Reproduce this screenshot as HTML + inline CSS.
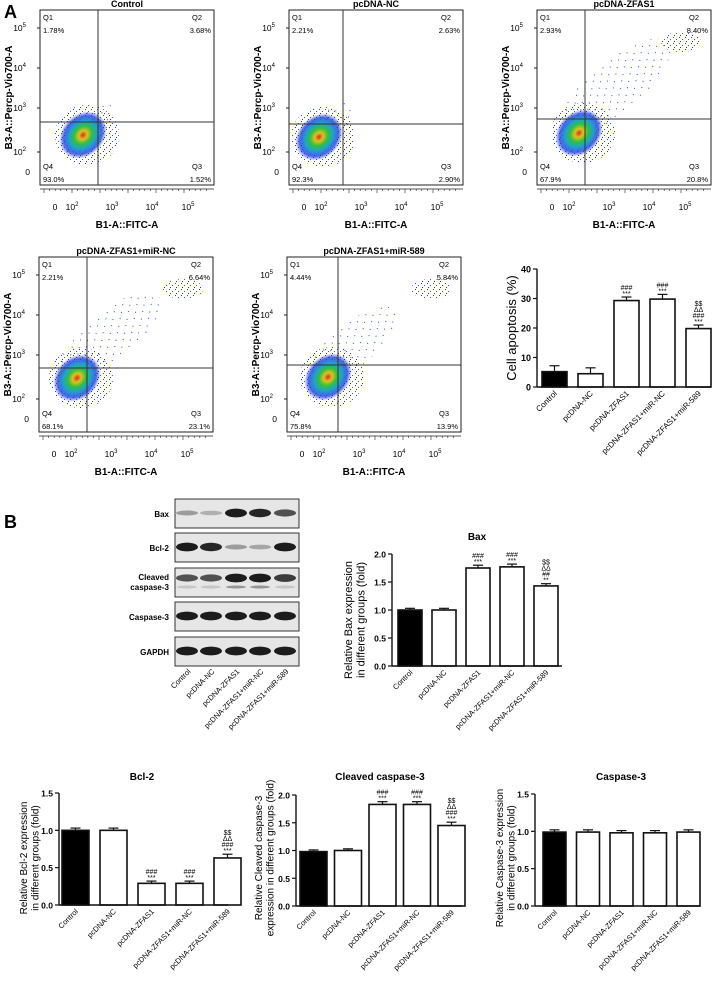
<!DOCTYPE html>
<html><head><meta charset="utf-8">
<style>
html,body{margin:0;padding:0;background:#fff;}
svg{display:block;font-family:"Liberation Sans",Arial,sans-serif;}
</style></head>
<body>
<svg id="fig" width="716" height="992" viewBox="0 0 716 992" xmlns="http://www.w3.org/2000/svg">
<defs>
<radialGradient id="dens" cx="50%" cy="50%" r="50%">
<stop offset="0" stop-color="#d83020"/>
<stop offset="0.18" stop-color="#e0c020"/>
<stop offset="0.38" stop-color="#30c040"/>
<stop offset="0.6" stop-color="#20a0d0"/>
<stop offset="0.82" stop-color="#2040e0" stop-opacity="0.8"/>
<stop offset="1" stop-color="#2030f0" stop-opacity="0"/>
</radialGradient>
<pattern id="speck" width="6" height="6" patternUnits="userSpaceOnUse">
<rect x="1" y="1" width="1" height="1" fill="#2a3cf0"/>
<rect x="4" y="3" width="1" height="1" fill="#3a50e8"/>
<rect x="2" y="5" width="1" height="1" fill="#2030d0"/>
</pattern>
<pattern id="speck2" width="11" height="9" patternUnits="userSpaceOnUse">
<rect x="2" y="2" width="1" height="1" fill="#3040f0"/>
<rect x="8" y="6" width="1" height="1" fill="#3040f0"/>
</pattern>
</defs>
<text x="4" y="18" font-size="18" font-weight="bold">A</text>
<text x="4" y="528" font-size="18" font-weight="bold">B</text>
<g id="flows"></g>
<g id="blot"></g>
<g id="charts"></g>
</svg>
<script>
const NS="http://www.w3.org/2000/svg";
function el(tag,attrs,parent,text){const e=document.createElementNS(NS,tag);for(const k in attrs)e.setAttribute(k,attrs[k]);if(text!==undefined)e.textContent=text;parent.appendChild(e);return e;}

/* ---------- flow cytometry plots ---------- */
const flowTitles=["Control","pcDNA-NC","pcDNA-ZFAS1","pcDNA-ZFAS1+miR-NC","pcDNA-ZFAS1+miR-589"];
const flowQ1=["1.78%","2.21%","2.93%","2.21%","4.44%"];
const flowQ2=["3.68%","2.63%","8.40%","6.64%","5.84%"];
const flowQ3=["1.52%","2.90%","20.8%","23.1%","13.9%"];
const flowQ4=["93.0%","92.3%","67.9%","68.1%","75.8%"];
const flowOrigins=[[40,10],[289,10],[537,10],[39,257],[287,257]];
const flowGateX=[58,54,48,48,51];
const flowGateY=[112,114,109,111,108];
const flowCluster=[[43,125],[30,127],[42,123],[38,121],[41,120]];
const flowSpread=[0.2,0.25,1,0.9,0.7];

const fg=document.getElementById('flows');
flowTitles.forEach((t,i)=>{
  const [ox,oy]=flowOrigins[i];const W=174,H=175;
  const g=el('g',{},fg);
  
  
  const tt=el('text',{x:ox+W/2,y:oy-3,'font-size':9,'font-weight':'bold','text-anchor':'middle'},g,t);
  
  
  const [cx,cy]=flowCluster[i];
  const s=flowSpread[i];
  const cl=el('g',{},g);
  
  
  el('ellipse',{cx:ox+cx+35*s,cy:oy+cy-45*s,rx:20+50*s,ry:10+16*s,transform:`rotate(-40 ${ox+cx+35*s} ${oy+cy-45*s})`,fill:'url(#speck2)'},cl);
  if(s>0.5) el('ellipse',{cx:ox+W-30,cy:oy+32,rx:20,ry:10,fill:'url(#speck)'},cl);
  el('ellipse',{cx:ox+cx+4,cy:oy+cy,rx:32,ry:30,fill:'url(#speck)'},cl);
  el('ellipse',{cx:ox+cx,cy:oy+cy,rx:26,ry:21,fill:'url(#dens)',transform:`rotate(-45 ${ox+cx} ${oy+cy})`},cl);
  el('rect',{x:ox,y:oy,width:W,height:H,fill:'none',stroke:'#222','stroke-width':1},g);
  el('line',{x1:ox+flowGateX[i],y1:oy,x2:ox+flowGateX[i],y2:oy+H,stroke:'#333','stroke-width':1},g);
  el('line',{x1:ox,y1:oy+flowGateY[i],x2:ox+W,y2:oy+flowGateY[i],stroke:'#333','stroke-width':1},g);
  const fs=7.5;
  el('text',{x:ox+3,y:oy+10,'font-size':fs},g,'Q1');
  el('text',{x:ox+3,y:oy+23,'font-size':fs},g,flowQ1[i]);
  el('text',{x:ox+W-22,y:oy+10,'font-size':fs},g,'Q2');
  el('text',{x:ox+W-3,y:oy+23,'font-size':fs,'text-anchor':'end'},g,flowQ2[i]);
  el('text',{x:ox+3,y:oy+H-16,'font-size':fs},g,'Q4');
  el('text',{x:ox+3,y:oy+H-3,'font-size':fs},g,flowQ4[i]);
  el('text',{x:ox+W-22,y:oy+H-16,'font-size':fs},g,'Q3');
  el('text',{x:ox+W-3,y:oy+H-3,'font-size':fs,'text-anchor':'end'},g,flowQ3[i]);
  [[18,'5'],[58,'4'],[98,'3'],[142,'2']].forEach(([yy,e])=>{
    const tx=el('text',{x:ox-14,y:oy+yy+3,'font-size':8.5,'text-anchor':'end'},g);
    el('tspan',{},tx,'10');el('tspan',{dy:-4,'font-size':6},tx,e);
    el('line',{x1:ox-3,y1:oy+yy,x2:ox,y2:oy+yy,stroke:'#222'},g);
  });
  el('text',{x:ox-10,y:oy+165,'font-size':8.5,'text-anchor':'end'},g,'0');
  el('line',{x1:ox,y1:oy+H+4,x2:ox+W,y2:oy+H+4,stroke:'#222','stroke-width':0.8},g);
  for(let k=0;k<30;k++){el('line',{x1:ox+4+k*5.6,y1:oy+H+4,x2:ox+4+k*5.6,y2:oy+H+(k%5==0?8:6),stroke:'#222','stroke-width':0.6},g);}
  el('text',{x:ox+15,y:oy+H+25,'font-size':8.5,'text-anchor':'middle'},g,'0');
  [[35,'2'],[75,'3'],[115,'4'],[151,'5']].forEach(([xx,e])=>{
    const tx=el('text',{x:ox+xx-3,y:oy+H+25,'font-size':8.5,'text-anchor':'middle'},g);
    el('tspan',{},tx,'10');el('tspan',{dy:-4,'font-size':6},tx,e);
  });
  const xl=el('text',{x:ox+W/2,y:oy+H+43,'font-size':10,'font-weight':'bold','text-anchor':'middle'},g,'B1-A::FITC-A');
  
  
  const yl=el('text',{x:0,y:0,'font-size':10,'font-weight':'bold','text-anchor':'middle',transform:`translate(${ox-28},${oy+H/2}) rotate(-90)`},g,'B3-A::Percp-Vio700-A');
  
  
});

/* ---------- western blot ---------- */
const blotLabels=[["Bax"],["Bcl-2"],["Cleaved","caspase-3"],["Caspase-3"],["GAPDH"]];
const blotTops=[499,533,568,602,637];
const blotIntensity=[[0.35,0.25,0.95,0.9,0.7],[0.95,0.9,0.35,0.3,0.95],[0.7,0.7,0.95,0.95,0.8],[0.95,0.95,0.95,0.95,0.95],[0.95,0.95,0.95,0.95,0.95]];
const laneX=[187,211,236,260,285];
const bg=document.getElementById('blot');
blotLabels.forEach((lab,r)=>{
  const top=blotTops[r];
  const g=el('g',{},bg);
  
  
  el('rect',{x:175,y:top,width:124,height:29,fill:'#e6e6e6',stroke:'#333','stroke-width':1},g);
  laneX.forEach((lx,j)=>{
    const a=blotIntensity[r][j];
    el('ellipse',{cx:lx,cy:top+(r==2?10:14),rx:11,ry:1.5+3*a,fill:'#111','fill-opacity':a},g);
    if(r==2) el('ellipse',{cx:lx,cy:top+19,rx:10,ry:1.5,fill:'#444','fill-opacity':j>=2&&j<=3?0.5:0.2},g);
  });
  if(lab.length==1) el('text',{x:169,y:top+18,'font-size':8,'font-weight':'bold','text-anchor':'end'},g,lab[0]);
  else {el('text',{x:169,y:top+12,'font-size':8,'font-weight':'bold','text-anchor':'end'},g,lab[0]);el('text',{x:169,y:top+22,'font-size':8,'font-weight':'bold','text-anchor':'end'},g,lab[1]);}
});
const categories=["Control","pcDNA-NC","pcDNA-ZFAS1","pcDNA-ZFAS1+miR-NC","pcDNA-ZFAS1+miR-589"];
categories.forEach((c,j)=>{
  const t=el('text',{x:0,y:0,'font-size':7.5,'text-anchor':'end',transform:`translate(${laneX[j]+4},${672}) rotate(-45)`},bg,c);
  
  
});

/* ---------- bar charts data ---------- */
const apoptosisValues=[5.2,4.5,29.3,29.8,19.8];
const apoptosisErrors=[2.0,2.0,1.2,1.6,1.2];
const apoptosisTicks=["0","10","20","30","40"];
const apoptosisAnnot=[[],[],["***","###"],["***","###"],["***","###","ΔΔ","$$"]];
const baxValues=[1.0,1.0,1.75,1.77,1.43];
const baxErrors=[0.03,0.03,0.05,0.05,0.04];
const baxTicks=["0.0","0.5","1.0","1.5","2.0"];
const baxAnnot=[[],[],["***","###"],["***","###"],["**","##","ΔΔ","$$"]];
const bcl2Values=[1.0,1.0,0.29,0.29,0.63];
const bcl2Errors=[0.03,0.03,0.03,0.03,0.05];
const bcl2Ticks=["0.0","0.5","1.0","1.5"];
const bcl2Annot=[[],[],["***","###"],["***","###"],["***","###","ΔΔ","$$"]];
const cleavedValues=[0.98,1.0,1.83,1.83,1.45];
const cleavedErrors=[0.03,0.03,0.05,0.05,0.06];
const cleavedTicks=["0.0","0.5","1.0","1.5","2.0"];
const cleavedAnnot=[[],[],["***","###"],["***","###"],["***","###","ΔΔ","$$"]];
const casp3Values=[0.99,0.99,0.98,0.98,0.99];
const casp3Errors=[0.03,0.03,0.03,0.03,0.03];
const casp3Ticks=["0.0","0.5","1.0","1.5"];
const casp3Annot=[[],[],[],[],[]];

const cg=document.getElementById('charts');
function barChart(c){
  const g=el('g',{},cg);
  
  
  const max=parseFloat(c.ticks[c.ticks.length-1]);
  const y=v=>c.y0-v/max*(c.y0-c.yTop);
  const bx=i=>c.bar0+i*c.pitch;
  c.ticks.forEach(t=>{
    const v=parseFloat(t);
    el('line',{x1:c.x0-4,y1:y(v),x2:c.x0,y2:y(v),stroke:'#111','stroke-width':1.2},g);
    const tl=el('text',{x:c.x0-6,y:y(v)+3.5,'font-size':c.tfs,'font-weight':'bold','text-anchor':'end'},g,t);
    
    
  });
  c.values.forEach((v,i)=>{
    const x=bx(i);
    const top=y(c.errors[i]+v);
    el('line',{x1:x+c.bw/2,y1:y(v),x2:x+c.bw/2,y2:top,stroke:'#111','stroke-width':1.2},g);
    el('line',{x1:x+c.bw/2-5,y1:top,x2:x+c.bw/2+5,y2:top,stroke:'#111','stroke-width':1.2},g);
    const r=el('rect',{x:x,y:y(v),width:c.bw,height:c.y0-y(v),fill:i==0?'#000':'#fff',stroke:'#111','stroke-width':1.6},g);
    
    
    c.annot[i].forEach((s,k)=>{
      el('text',{x:x+c.bw/2,y:top-1-k*6,'font-size':7,'text-anchor':'middle'},g,s);
    });
    const cl=el('text',{x:0,y:0,'font-size':c.cfs,'text-anchor':'end',transform:`translate(${x+c.bw/2+3},${c.y0+7}) rotate(-45)`},g,categories[i]);
    
    
  });
  el('line',{x1:c.x0,y1:c.yTop,x2:c.x0,y2:c.y0,stroke:'#111','stroke-width':1.4},g);
  el('line',{x1:c.x0,y1:c.y0,x2:c.xEnd,y2:c.y0,stroke:'#111','stroke-width':1.4},g);
  if(c.title){const tt=el('text',{x:c.titleX,y:c.titleY,'font-size':10,'font-weight':'bold','text-anchor':'middle'},g,c.title);
    }
  c.ylab.forEach((l,k)=>{
    const yl=el('text',{x:0,y:0,'font-size':c.yfs,'text-anchor':'middle',transform:`translate(${c.ylx+k*c.yfs*1.15},${c.yly}) rotate(-90)`},g,l);
    
    
  });
}
barChart({name:'cell-apoptosis-chart',x0:537,y0:387,yTop:269,bar0:542,pitch:36,bw:25,xEnd:711,values:apoptosisValues,errors:apoptosisErrors,ticks:apoptosisTicks,annot:apoptosisAnnot,tfs:9,cfs:8,ylab:["Cell apoptosis (%)"],ylx:516,yly:328,yfs:13});
barChart({name:'bax-chart',x0:392,y0:666,yTop:554,bar0:398,pitch:34,bw:24,xEnd:562,values:baxValues,errors:baxErrors,ticks:baxTicks,annot:baxAnnot,tfs:8.5,cfs:7.5,title:'Bax',titleX:477,titleY:540,ylab:["Relative Bax expression","in different groups (fold)"],ylx:352,yly:620,yfs:11});
barChart({name:'bcl2-chart',x0:59,y0:905,yTop:793,bar0:62,pitch:38,bw:27,xEnd:228,values:bcl2Values,errors:bcl2Errors,ticks:bcl2Ticks,annot:bcl2Annot,tfs:8.5,cfs:7.5,title:'Bcl-2',titleX:142,titleY:780,ylab:["Relative Bcl-2 expression","in different groups (fold)"],ylx:27,yly:858,yfs:10});
barChart({name:'cleaved-caspase3-chart',x0:296,y0:906,yTop:795,bar0:300,pitch:34.5,bw:27,xEnd:462,values:cleavedValues,errors:cleavedErrors,ticks:cleavedTicks,annot:cleavedAnnot,tfs:8.5,cfs:7.5,title:'Cleaved caspase-3',titleX:380,titleY:780,ylab:["Relative Cleaved caspase-3","expression in different groups (fold)"],ylx:262,yly:858,yfs:10});
barChart({name:'caspase3-chart',x0:535,y0:906,yTop:794,bar0:543,pitch:33.5,bw:23,xEnd:700,values:casp3Values,errors:casp3Errors,ticks:casp3Ticks,annot:casp3Annot,tfs:8.5,cfs:7.5,title:'Caspase-3',titleX:621,titleY:780,ylab:["Relative Caspase-3 expression","in different groups (fold)"],ylx:503,yly:858,yfs:10});
</script>
</body></html>
